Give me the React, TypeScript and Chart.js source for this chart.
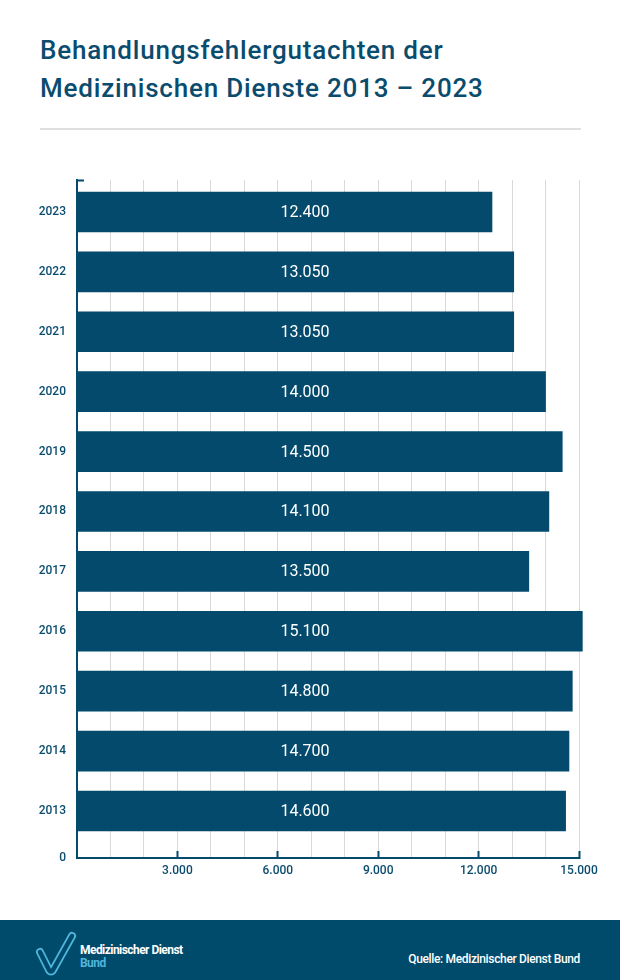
import React, { useEffect, useRef } from "react";
import { Chart, registerables } from "chart.js";

Chart.register(...registerables);

const years: number[] = [2023, 2022, 2021, 2020, 2019, 2018, 2017, 2016, 2015, 2014, 2013];
const reports: number[] = [12400, 13050, 13050, 14000, 14500, 14100, 13500, 15100, 14800, 14700, 14600];
const xTickStep = 1000;
const xLabelStep = 3000;
const xMax = 15000;
const yMin = 2012.215;
const yMax = 2023.534;

const titleLines: string[] = ["Behandlungsfehlergutachten der", "Medizinischen Dienste 2013 – 2023"];
const sourceText = "Quelle: Medizinischer Dienst Bund";

const DARK = "#034a6c";
const TEXT = "#0a4c6e";
const GRID = "#d9d9d9";
const FONT = "Roboto, 'Noto Sans', sans-serif";

function fmt(v: number): string {
  const s = Math.round(v).toString();
  return s.replace(/\B(?=(\d{3})+(?!\d))/g, ".");
}

const barLabelPlugin = {
  id: "barLabels",
  afterDatasetsDraw(chart: any) {
    const ctx = chart.ctx;
    const meta = chart.getDatasetMeta(0);
    ctx.save();
    ctx.fillStyle = "#ffffff";
    ctx.font = `400 16px ${FONT}`;
    ctx.textAlign = "center";
    ctx.textBaseline = "middle";
    const cx = chart.width / 2 - 5;
    meta.data.forEach((bar: any, i: number) => {
      ctx.fillText(fmt(reports[i]), cx, bar.y + 1);
    });
    ctx.restore();
  },
};

function BarChart() {
  const ref = useRef<HTMLCanvasElement | null>(null);
  useEffect(() => {
    if (!ref.current) return;
    const chart = new Chart(ref.current, {
      type: "bar",
      data: {
        labels: years,
        datasets: [
          {
            data: reports,
            backgroundColor: DARK,
            borderWidth: 0,
            barThickness: 40,
            clip: false as any,
          } as any,
        ],
      },
      options: {
        indexAxis: "y",
        animation: false,
        responsive: true,
        maintainAspectRatio: false,
        layout: { padding: { top: 30, right: 41, left: 0, bottom: 0 } },
        plugins: { legend: { display: false }, tooltip: { enabled: false } },
        scales: {
          x: {
            type: "linear",
            min: 0,
            max: xMax,
            grid: {
              color: (c: any) => (c.tick && c.tick.value === 0 ? "rgba(0,0,0,0)" : GRID),
              lineWidth: 1,
              drawTicks: true,
              tickLength: -7,
              tickWidth: 2,
              tickColor: (c: any) =>
                c.tick && c.tick.value > 0 && c.tick.value % xLabelStep === 0 ? DARK : "rgba(0,0,0,0)",
            },
            border: { display: true, color: DARK, width: 2 },
            ticks: {
              stepSize: xTickStep,
              autoSkip: false,
              maxRotation: 0,
              padding: 13,
              color: TEXT,
              font: { family: FONT, size: 12, weight: "500" as any },
              callback: (v: any) => {
                const n = Number(v);
                return n > 0 && n % xLabelStep === 0 ? fmt(n) : "";
              },
            },
            afterFit: (s: any) => {
              s.height = 32;
            },
          },
          y: {
            type: "linear",
            min: yMin,
            max: yMax,
            offset: false,
            grid: {
              offset: false,
              drawOnChartArea: false,
              drawTicks: true,
              tickLength: -7,
              tickWidth: 2,
              tickColor: (c: any) => (c.tick && c.tick.value === yMax ? DARK : "rgba(0,0,0,0)"),
            },
            border: { display: true, color: DARK, width: 2 },
            afterBuildTicks: (s: any) => {
              s.ticks = [yMin, ...years.slice().reverse(), yMax].map((v) => ({ value: v }));
            },
            ticks: {
              autoSkip: false,
              padding: 18,
              color: TEXT,
              font: { family: FONT, size: 12, weight: "500" as any },
              callback: (v: any) => {
                const n = Number(v);
                if (n === yMin) return "0";
                if (n === yMax) return "";
                return String(n);
              },
            },
            afterFit: (s: any) => {
              s.width = 77;
            },
          },
        },
      } as any,
      plugins: [barLabelPlugin],
    });
    return () => chart.destroy();
  }, []);
  return (
    <div style={{ position: "absolute", left: 0, top: 150, width: 620, height: 740 }}>
      <canvas ref={ref} />
    </div>
  );
}

export default function App() {
  return (
    <div
      style={{
        position: "absolute",
        left: 0,
        top: 0,
        width: 620,
        height: 980,
        background: "#ffffff",
        overflow: "hidden",
        fontFamily: FONT,
      }}
    >
      <div
        style={{
          position: "absolute",
          left: 40,
          top: 31,
          fontSize: 26,
          lineHeight: "38px",
          fontWeight: 500,
          color: TEXT,
          letterSpacing: "0.8px",
          whiteSpace: "nowrap",
        }}
      >
        {titleLines.map((l, i) => (
          <div key={i}>{l}</div>
        ))}
      </div>
      <div style={{ position: "absolute", left: 40, top: 128, width: 541, height: 2, background: "#e0e0e0" }} />
      <BarChart />
      <div style={{ position: "absolute", left: 0, top: 920, width: 620, height: 60, background: "#004a6b" }}>
        <svg
          width={44}
          height={46}
          viewBox="0 0 44 46"
          style={{ position: "absolute", left: 34, top: 10 }}
        >
          <path
            d="M 6 22 L 15 40 Q 17 43 19 40 L 38 6"
            fill="none"
            stroke="#4fb6dc"
            strokeWidth={8}
            strokeLinecap="round"
            strokeLinejoin="round"
          />
          <path
            d="M 6 22 L 15 40 Q 17 43 19 40 L 38 6"
            fill="none"
            stroke="#004a6b"
            strokeWidth={4.5}
            strokeLinecap="round"
            strokeLinejoin="round"
          />
        </svg>
        <div
          style={{
            position: "absolute",
            left: 80,
            top: 24,
            fontSize: 12,
            lineHeight: "13px",
            fontWeight: 700,
            color: "#ffffff",
            letterSpacing: "-0.55px",
          }}
        >
          <div>Medizinischer Dienst</div>
          <div style={{ color: "#4fb6dc" }}>Bund</div>
        </div>
        <div
          style={{
            position: "absolute",
            right: 40,
            top: 32,
            fontSize: 12,
            lineHeight: "14px",
            fontWeight: 500,
            color: "#ffffff",
            letterSpacing: "-0.35px",
          }}
        >
          {sourceText}
        </div>
      </div>
    </div>
  );
}
